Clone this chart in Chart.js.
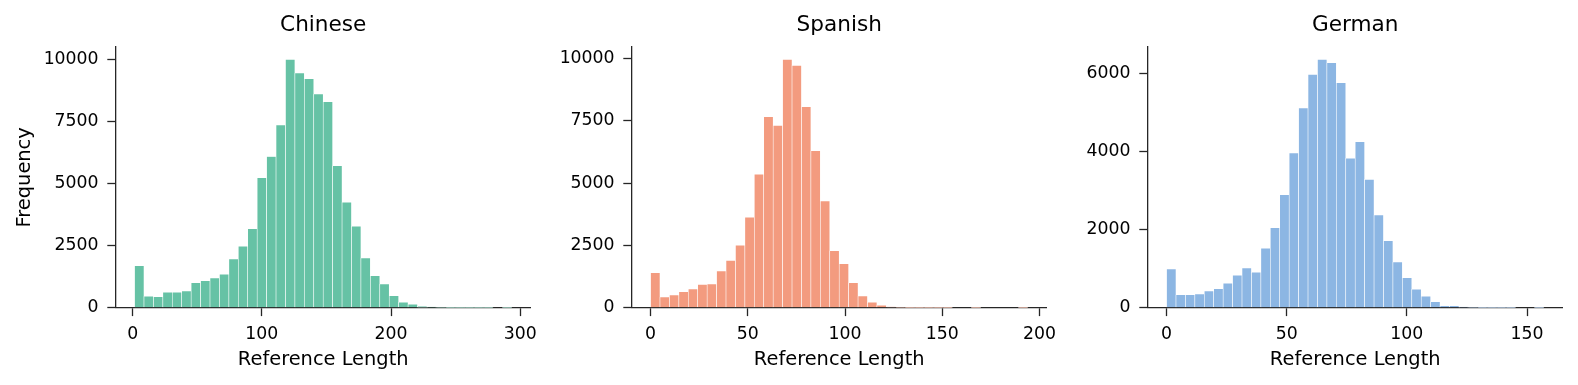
<!DOCTYPE html>
<html>
<head>
<meta charset="utf-8">
<script src="https://cdn.jsdelivr.net/npm/chart.js@4/dist/chart.umd.min.js"></script>
<style>
  html, body { margin: 0; padding: 0; background: #ffffff; overflow: hidden; }
  body { width: 1578px; height: 385px; position: relative; }
  canvas { position: absolute; top: 0; }
</style>
</head>
<body>
<canvas id="c0" width="551" height="385" style="left:0px"></canvas>
<canvas id="c1" width="515" height="385" style="left:552px"></canvas>
<canvas id="c2" width="510" height="385" style="left:1068px"></canvas>
<script>
// ---- data ----
const panelTitles = ["Chinese", "Spanish", "German"];

// histogram bin ranges (first edge, last edge), 40 bins each
const chineseRange = [1.5, 293.5];
const spanishRange = [0, 194];
const germanRange = [0, 157];

const chineseCounts = [1690, 460, 444, 622, 622, 674, 1009, 1090, 1199, 1348,
  1966, 2479, 3189, 5236, 6096, 7364, 10012, 9463, 9233, 8615,
  8305, 5721, 4255, 3286, 2006, 1292, 957, 484, 218, 137,
  56, 25, 12, 6, 3, 2, 1, 1, 0, 1];

const spanishCounts = [1403, 429, 509, 641, 749, 936, 950, 1471, 1898, 2500,
  3623, 5347, 7655, 7310, 9956, 9715, 8056, 6293, 4277, 2285,
  1763, 1002, 469, 216, 96, 30, 12, 5, 3, 2,
  1, 1, 0, 0, 1, 0, 0, 0, 0, 1];

const germanCounts = [992, 333, 333, 351, 428, 487, 626, 831, 1018, 908,
  1523, 2051, 2897, 3967, 5121, 5985, 6369, 6282, 5769, 3831,
  4256, 3292, 2377, 1718, 1172, 769, 472, 292, 154, 51,
  51, 15, 6, 3, 2, 1, 1, 0, 0, 1];

const chineseXTicks = [0, 100, 200, 300];
const spanishXTicks = [0, 50, 100, 150, 200];
const germanXTicks = [0, 50, 100, 150];

const chineseYTicks = [0, 2500, 5000, 7500, 10000];
const spanishYTicks = [0, 2500, 5000, 7500, 10000];
const germanYTicks = [0, 2000, 4000, 6000];

const xLabel = "Reference Length";
const yLabel = "Frequency";

// ---- styling ----
const FONT = "'DejaVu Sans', 'Liberation Sans', sans-serif";
const AXIS_COLOR = "#262626";
const AXIS_W = 1.3;
const TICK_LEN = 8.4;

function makePanel(id, counts, range, color, title, xTicks, yTicks, showYTitle, yAxisWidth, rightPad) {
  const n = counts.length;
  const w = (range[1] - range[0]) / n;
  const pts = counts.map((c, i) => ({ x: range[0] + (i + 0.5) * w, y: c }));
  const span = range[1] - range[0];
  const xMin = range[0] - 0.05 * span;
  const xMax = range[1] + 0.05 * span;
  const yMax = 1.05 * Math.max(...counts);

  return new Chart(document.getElementById(id), {
    type: 'bar',
    data: {
      datasets: [{
        data: pts,
        backgroundColor: color,
        borderColor: '#ffffff',
        borderWidth: 0.6,
        borderSkipped: 'start',
        barPercentage: 1,
        categoryPercentage: 1
      }]
    },
    options: {
      responsive: false,
      animation: false,
      devicePixelRatio: 1,
      layout: { padding: { left: 0, right: rightPad, top: 0, bottom: 0 } },
      plugins: {
        legend: { display: false },
        tooltip: { enabled: false },
        title: {
          display: true,
          text: title,
          fullSize: false,
          color: '#000',
          font: { family: FONT, size: 21.6, weight: 'normal', lineHeight: 1.2 },
          padding: { top: 12.84, bottom: 8.24 }
        }
      },
      scales: {
        x: {
          type: 'linear',
          z: 1,
          min: xMin,
          max: xMax,
          offset: false,
          afterBuildTicks: s => { s.ticks = xTicks.map(v => ({ value: v })); },
          afterFit: s => { s.height = 77.3; },
          ticks: {
            callback: v => String(v),
            color: '#000',
            font: { family: FONT, size: 17.3, lineHeight: 1.2 },
            padding: 8.4,
            maxRotation: 0,
            autoSkip: false
          },
          grid: { display: true, offset: false, drawOnChartArea: false, drawTicks: true, tickLength: TICK_LEN, tickWidth: AXIS_W, tickColor: AXIS_COLOR },
          border: { display: true, color: AXIS_COLOR, width: AXIS_W },
          title: {
            display: true,
            text: xLabel,
            color: '#000',
            font: { family: FONT, size: 19.4, lineHeight: 1.2 },
            padding: { top: 4, bottom: 13 }
          }
        },
        y: {
          type: 'linear',
          z: 1,
          min: 0,
          max: yMax,
          afterBuildTicks: s => { s.ticks = yTicks.map(v => ({ value: v })); },
          afterFit: s => { s.width = yAxisWidth; },
          ticks: {
            callback: v => String(v),
            color: '#000',
            font: { family: FONT, size: 17.3, lineHeight: 1.2 },
            padding: 8.7,
            autoSkip: false
          },
          grid: { display: true, offset: false, drawOnChartArea: false, drawTicks: true, tickLength: TICK_LEN, tickWidth: AXIS_W, tickColor: AXIS_COLOR },
          border: { display: true, color: AXIS_COLOR, width: AXIS_W },
          title: {
            display: showYTitle,
            text: yLabel,
            color: '#000',
            font: { family: FONT, size: 19.4, lineHeight: 1.2 },
            padding: { top: 13, bottom: 4 }
          }
        }
      }
    }
  });
}

makePanel('c0', chineseCounts, chineseRange, '#66c2a5', panelTitles[0], chineseXTicks, chineseYTicks, true, 115.7, 20.3);
makePanel('c1', spanishCounts, spanishRange, '#f39b7f', panelTitles[1], spanishXTicks, spanishYTicks, false, 79.7, 20.3);
makePanel('c2', germanCounts, germanRange, '#8cb6e3', panelTitles[2], germanXTicks, germanYTicks, false, 79.7, 15.3);
</script>
</body>
</html>
